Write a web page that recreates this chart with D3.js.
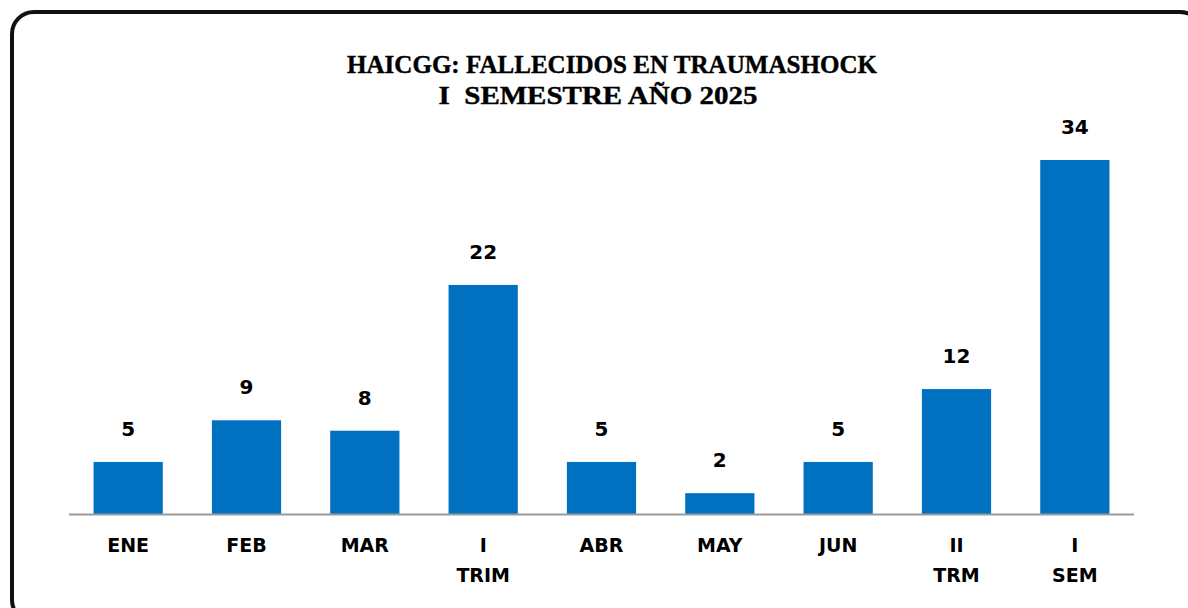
<!DOCTYPE html>
<html lang="es">
<head>
<meta charset="UTF-8">
<title>HAICGG: Fallecidos en Traumashock</title>
<style>
  body { margin: 0; background: #fff; }
  .bar { fill: #0070C0; }
  .val { font-family: "DejaVu Sans", Verdana, sans-serif; font-weight: bold; font-size: 20px; fill: #000; }
  .cat { font-family: "DejaVu Sans", Verdana, sans-serif; font-weight: bold; font-size: 19px; fill: #000; }
  .title { font-family: "Liberation Serif", "DejaVu Serif", serif; font-weight: bold; font-size: 25px; fill: #000; stroke: #000; stroke-width: 0.4px; }
</style>
</head>
<body>
<script src="https://d3js.org/d3.v7.min.js"></script>
<script>
// data
var categories = ["ENE", "FEB", "MAR", "I\nTRIM", "ABR", "MAY", "JUN", "II\nTRM", "I\nSEM"];
var values = [5, 9, 8, 22, 5, 2, 5, 12, 34];
var titleLines = ["HAICGG: FALLECIDOS EN TRAUMASHOCK", "I  SEMESTRE AÑO 2025"];

var W = 1188, H = 608;

var svg = d3.select("body").append("svg")
    .attr("width", W)
    .attr("height", H);

// rounded frame (runs off the right and bottom edges)
svg.append("rect")
    .attr("x", 12).attr("y", 12)
    .attr("width", 1190).attr("height", 610)
    .attr("rx", 22).attr("ry", 22)
    .attr("fill", "#fff")
    .attr("stroke", "#111")
    .attr("stroke-width", 4);

// title
var titleX = [612, 598];
var titleWidths = [530, 319];
svg.selectAll(".title")
    .data(titleLines)
    .enter().append("text")
    .attr("class", "title")
    .attr("x", function(d, i) { return titleX[i]; })
    .attr("y", function(d, i) { return 73 + i * 31; })
    .attr("text-anchor", "middle")
    .attr("textLength", function(d, i) { return titleWidths[i]; })
    .attr("lengthAdjust", "spacingAndGlyphs")
    .attr("xml:space", "preserve")
    .text(function(d) { return d; });

var x = d3.scaleBand()
    .domain(categories)
    .range([69, 1134])
    .paddingInner(0.415)
    .paddingOuter(0.2075);

var y = d3.scaleLinear()
    .domain([0, 34])
    .range([514, 160]);

// bars
svg.selectAll(".bar")
    .data(values)
    .enter().append("rect")
    .attr("class", "bar")
    .attr("x", function(d, i) { return x(categories[i]); })
    .attr("y", function(d) { return y(d); })
    .attr("width", x.bandwidth())
    .attr("height", function(d) { return y(0) - y(d); });

// axis line
svg.append("line")
    .attr("x1", 69).attr("x2", 1134)
    .attr("y1", y(0) + 0.5).attr("y2", y(0) + 0.5)
    .attr("stroke", "#9a9a9a")
    .attr("stroke-width", 2);

// value labels
svg.selectAll(".val")
    .data(values)
    .enter().append("text")
    .attr("class", "val")
    .attr("x", function(d, i) { return x(categories[i]) + x.bandwidth() / 2; })
    .attr("y", function(d) { return y(d) - 26; })
    .attr("text-anchor", "middle")
    .text(function(d) { return d; });

// category labels
var cat = svg.selectAll(".cat")
    .data(categories)
    .enter().append("text")
    .attr("class", "cat")
    .attr("text-anchor", "middle")
    .attr("x", function(d) { return x(d) + x.bandwidth() / 2; })
    .attr("y", 552);

cat.selectAll("tspan")
    .data(function(d) { return d.split("\n"); })
    .enter().append("tspan")
    .attr("x", function() { return d3.select(this.parentNode).attr("x"); })
    .attr("dy", function(d, i) { return i === 0 ? 0 : 30; })
    .text(function(d) { return d; });
</script>
</body>
</html>
